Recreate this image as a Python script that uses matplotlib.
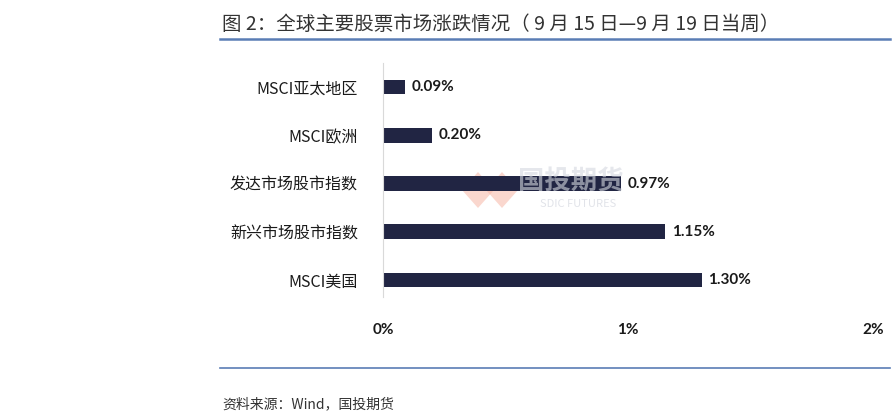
import matplotlib
matplotlib.use("Agg")
import matplotlib.pyplot as plt
from matplotlib.lines import Line2D
from matplotlib.patches import Polygon

categories = ["MSCI亚太地区", "MSCI欧洲", "发达市场股市指数", "新兴市场股市指数", "MSCI美国"]
values = [0.09, 0.20, 0.97, 1.15, 1.30]
xticks = [0, 1, 2]
xtick_labels = ["0%", "1%", "2%"]
title = "图 2：全球主要股票市场涨跌情况（ 9 月 15 日—9 月 19 日当周）"
source = "资料来源：Wind，国投期货"

plt.rcParams['font.family'] = ['Noto Sans CJK SC', 'DejaVu Sans']

W, H = 894, 417
fig = plt.figure(figsize=(W / 100, H / 100), dpi=100)

def fx(px):
    return px / W

def fy(py):
    return 1 - py / H

# faint watermark logo (drawn first, behind everything)
for pts in ([(462, 190), (478, 172), (494, 190), (478, 208)],
            [(486, 190), (502, 172), (518, 190), (502, 208)]):
    fig.add_artist(Polygon([(fx(a), fy(b)) for a, b in pts], closed=True,
                           facecolor="#f7b7a6", edgecolor="none", alpha=0.55, zorder=0))
fig.text(fx(571), fy(182), "国投期货", fontsize=19, color="#d5d8e0", alpha=0.6,
         ha="center", va="center", fontweight="bold", zorder=0)
fig.text(fx(578), fy(204), "SDIC FUTURES", fontsize=8, color="#d5d8e0", alpha=0.7,
         ha="center", va="center", zorder=0)

ax = fig.add_axes([fx(383), fy(304), fx(873) - fx(383), fy(63) - fy(304)])
ax.patch.set_alpha(0)
pos = list(range(len(categories)))
ax.barh(pos, values, height=0.3, color="#212543")
ax.set_xlim(0, 2)
ax.set_ylim(4.5, -0.5)
ax.set_yticks(pos)
ax.set_yticklabels(categories, fontsize=11.5, color="#1a1a1a")
ax.set_xticks(xticks)
ax.set_xticklabels(xtick_labels, fontsize=11, fontweight="bold", family=["Lato", "DejaVu Sans"], color="#1a1a1a")
ax.tick_params(axis="y", length=0, pad=18)
ax.tick_params(axis="x", length=0, pad=14)
for s in ["top", "right", "bottom"]:
    ax.spines[s].set_visible(False)
ax.spines["left"].set_color("#d9d9d9")
ax.spines["left"].set_bounds(4.35, -0.5)

for p, v in zip(pos, values):
    ax.annotate(f"{v:.2f}%", xy=(v, p), xytext=(5, 0), textcoords="offset points",
                va="center", ha="left", fontsize=11, fontweight="bold",
                family=["Lato", "DejaVu Sans"], color="#1a1a1a")

fig.text(fx(222), fy(24), title, fontsize=14, color="#333333", ha="left", va="center")
fig.add_artist(Line2D([fx(220), fx(890)], [fy(38.5), fy(38.5)], color="#5a7db5", lw=1.8))
fig.add_artist(Line2D([fx(220), fx(890)], [fy(367.5), fy(367.5)], color="#5a7db5", lw=1.2))
fig.text(fx(222), fy(404), source, fontsize=10, color="#333333", ha="left", va="center", style="italic")

fig.savefig("out.png", dpi=100)
